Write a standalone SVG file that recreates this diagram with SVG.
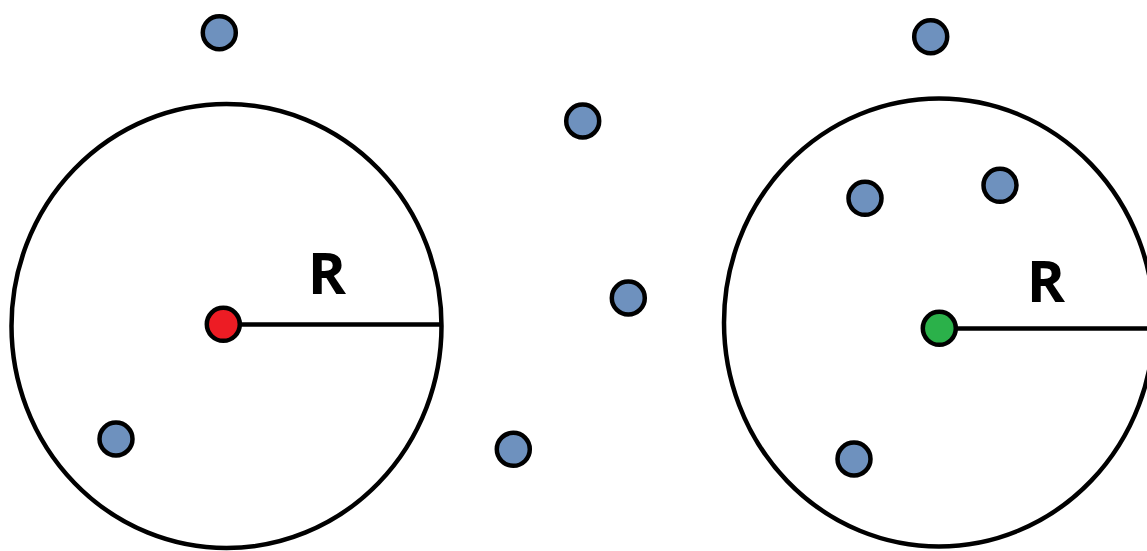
<svg xmlns="http://www.w3.org/2000/svg" width="1147" height="551" viewBox="0 0 1147 551">
  <style>
    .ring { fill: none; stroke: #000; stroke-width: 4.5; }
    .radius { stroke: #000; stroke-width: 4.5; }
    .pt { stroke: #000; stroke-width: 4.5; }
    .blue { fill: #6E91BE; }
    .red { fill: #ED1C24; }
    .green { fill: #2BB14A; }
    .lbl { font-family: "Open Sans", "Liberation Sans", sans-serif; font-weight: bold; font-size: 58px; fill: #000; text-anchor: middle; }
  </style>
  <rect width="1147" height="551" fill="#fff"/>
  <g id="left-region">
    <ellipse class="ring" cx="226.5" cy="326" rx="215" ry="222"/>
    <line class="radius" x1="223" y1="324.5" x2="441" y2="324.5"/>
    <text class="lbl" x="327" y="294">R</text>
  </g>
  <g id="right-region">
    <ellipse class="ring" cx="939" cy="322.5" rx="215" ry="224"/>
    <line class="radius" x1="939" y1="328.5" x2="1147" y2="328.5"/>
    <text class="lbl" x="1046" y="302">R</text>
  </g>
  <g id="center-red"><circle class="pt red" cx="223.3" cy="324.3" r="16.5"/></g>
  <g id="center-green"><circle class="pt green" cx="939.3" cy="328.3" r="16.5"/></g>
  <g id="pt1"><circle class="pt blue" cx="219.3" cy="32.7" r="16.5"/></g>
  <g id="pt2"><circle class="pt blue" cx="116" cy="439" r="16.5"/></g>
  <g id="pt3"><circle class="pt blue" cx="582.7" cy="121" r="16.5"/></g>
  <g id="pt4"><circle class="pt blue" cx="628.3" cy="298" r="16.5"/></g>
  <g id="pt5"><circle class="pt blue" cx="513.3" cy="449.3" r="16.5"/></g>
  <g id="pt6"><circle class="pt blue" cx="930.7" cy="36.7" r="16.5"/></g>
  <g id="pt7"><circle class="pt blue" cx="865" cy="198.3" r="16.5"/></g>
  <g id="pt8"><circle class="pt blue" cx="1000" cy="185.3" r="16.5"/></g>
  <g id="pt9"><circle class="pt blue" cx="854" cy="459" r="16.5"/></g>
  <g id="connectors"></g>
</svg>
